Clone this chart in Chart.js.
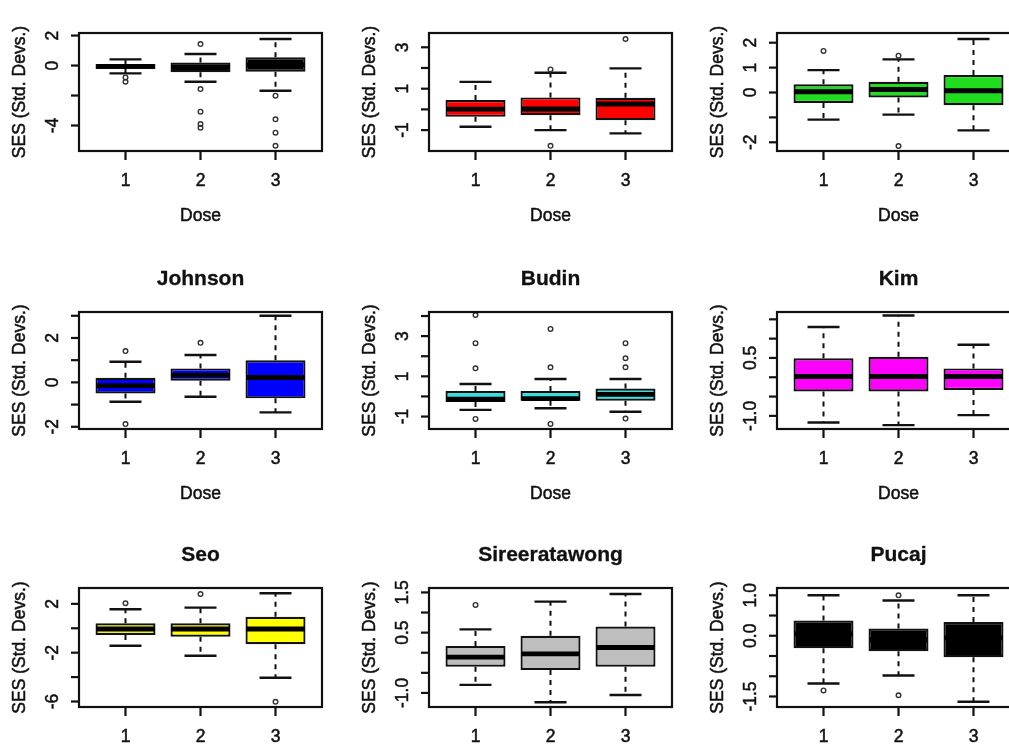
<!DOCTYPE html>
<html><head><meta charset="utf-8">
<script src="https://cdn.jsdelivr.net/npm/chart.js@4.4.0/dist/chart.umd.min.js"></script>
<style>
html,body{margin:0;padding:0;background:#fff;width:1009px;height:745px;overflow:hidden;position:relative}
canvas{position:absolute}
</style></head><body>
<script>
// ---------- data ----------
const doses = [1, 2, 3];
const xAxisTitle = "Dose";
const yAxisTitle = "SES (Std. Devs.)";
const titles = ["", "", "", "Johnson", "Budin", "Kim", "Seo", "Sireeratawong", "Pucaj"];
const fills = ["#000000", "#ff0000", "#1fdc1f", "#0000ff", "#33dede", "#ff00ff", "#ffff00", "#bebebe", "#000000"];

// each row: [lower whisker, Q1, median, Q3, upper whisker] for dose 1,2,3
const stats1 = [[-0.52,-0.23,-0.05,0.10,0.41],[-1.08,-0.45,-0.10,0.21,0.77],[-1.68,-0.41,0.05,0.55,1.77]];
const stats2 = [[-0.84,-0.36,0.01,0.45,1.33],[-1.00,-0.28,0.02,0.58,1.77],[-1.16,-0.52,0.26,0.56,1.98]];
const stats3 = [[-1.09,-0.42,0.03,0.33,0.90],[-0.89,-0.20,0.12,0.43,1.33],[-1.52,-0.51,0.07,0.70,2.15]];
const stats4 = [[-0.87,-0.50,-0.15,0.21,0.93],[-0.65,0.07,0.33,0.63,1.23],[-1.35,-0.72,0.22,1.00,3.00]];
const stats5 = [[-0.67,-0.28,-0.14,0.27,0.62],[-0.59,-0.21,-0.11,0.27,0.87],[-0.76,-0.21,0.10,0.39,0.87]];
const stats6 = [[-1.17,-0.37,0.02,0.49,1.30],[-1.24,-0.37,0.02,0.53,1.60],[-0.98,-0.33,0.02,0.23,0.84]];
const stats7 = [[-1.43,-0.55,-0.06,0.41,1.56],[-2.25,-0.69,-0.06,0.41,1.69],[-4.05,-1.31,-0.06,0.95,2.87]];
const stats8 = [[-0.80,-0.35,-0.11,0.17,0.58],[-1.23,-0.43,-0.03,0.42,1.27],[-1.05,-0.35,0.13,0.65,1.46]];
const stats9 = [[-1.18,-0.31,0.05,0.38,1.00],[-0.98,-0.38,-0.10,0.18,0.87],[-1.63,-0.53,-0.05,0.34,1.00]];

// outliers for dose 1,2,3
const out1 = [[-0.79,-1.08],[1.43,-1.57,-3.08,-3.90,-4.15],[-2.01,-3.59,-4.48,-5.35]];
const out2 = [[],[1.93,-1.76],[3.40]];
const out3 = [[1.67],[1.48,-2.15],[]];
const out4 = [[1.41,-1.88],[1.78],[]];
const out5 = [[4.05,2.65,1.40,-1.12],[3.36,1.45,-1.37],[2.65,1.90,1.45,-1.10]];
const out6 = [[],[],[]];
const out7 = [[2.05],[2.81],[-6.02]];
const out8 = [[1.19],[],[]];
const out9 = [[-1.35],[1.00,-1.47],[]];

// y axis ranges, tick values and tick labels
const yRange1 = [-5.70, 2.17], yTicks1 = [-4,-2,0,2],            yLabels1 = ["-4","","0","2"];
const yRange2 = [-2.01, 3.69], yTicks2 = [-1,0,1,2,3],           yLabels2 = ["-1","","1","","3"];
const yRange3 = [-2.35, 2.39], yTicks3 = [-2,-1,0,1,2],          yLabels3 = ["-2","","0","1","2"];
const yRange4 = [-2.10, 3.17], yTicks4 = [-2,-1,0,1,2,3],        yLabels4 = ["-2","","0","","2",""];
const yRange5 = [-1.62, 4.20], yTicks5 = [-1,0,1,2,3,4],         yLabels5 = ["-1","","1","","3",""];
const yRange6 = [-1.34, 1.69], yTicks6 = [-1,-0.5,0,0.5,1,1.5],  yLabels6 = ["-1.0","","","0.5","",""];
const yRange7 = [-6.45, 3.30], yTicks7 = [-6,-4,-2,0,2],         yLabels7 = ["-6","","-2","","2"];
const yRange8 = [-1.35, 1.61], yTicks8 = [-1,-0.5,0,0.5,1,1.5],  yLabels8 = ["-1.0","","","0.5","","1.5"];
const yRange9 = [-1.76, 1.18], yTicks9 = [-1.5,-1,-0.5,0,0.5,1], yLabels9 = ["-1.5","","","0.0","","1.0"];
const xRange = [0.38, 3.62];

const allStats = [stats1,stats2,stats3,stats4,stats5,stats6,stats7,stats8,stats9];
const allOut = [out1,out2,out3,out4,out5,out6,out7,out8,out9];
const allRanges = [yRange1,yRange2,yRange3,yRange4,yRange5,yRange6,yRange7,yRange8,yRange9];
const allTicks = [yTicks1,yTicks2,yTicks3,yTicks4,yTicks5,yTicks6,yTicks7,yTicks8,yTicks9];
const allLabels = [yLabels1,yLabels2,yLabels3,yLabels4,yLabels5,yLabels6,yLabels7,yLabels8,yLabels9];

// ---------- layout ----------
const colLeft = [79, 429, 777];
const rowTop = [33, 312, 588];
const rowH = [118, 117, 119];
const boxW = 243;
const PL = 80, PR = 14, PT = 62, PB = 86;
const INK = "#111";
const FONT = "'Liberation Sans', Arial, sans-serif";

function heavyText(ctx, s, x, y) {
  ctx.fillText(s, x, y);
  ctx.strokeText(s, x, y);
}

function makePlugin(i) {
  return {
    id: 'boxplot' + i,
    beforeDatasetsDraw(chart) {
      const {ctx, scales: {x, y}} = chart;
      const bars = chart.getDatasetMeta(0).data;
      ctx.save();
      ctx.strokeStyle = INK;
      allStats[i].forEach((s, k) => {
        const cx = x.getPixelForValue(doses[k]);
        const half = bars[k].width / 4 + 1;
        ctx.lineWidth = 2;
        ctx.setLineDash([5, 5]);
        ctx.beginPath();
        ctx.moveTo(cx, y.getPixelForValue(s[3])); ctx.lineTo(cx, y.getPixelForValue(s[4]));
        ctx.moveTo(cx, y.getPixelForValue(s[1])); ctx.lineTo(cx, y.getPixelForValue(s[0]));
        ctx.stroke();
        ctx.setLineDash([]);
        ctx.lineWidth = 2.4;
        ctx.beginPath();
        ctx.moveTo(cx - half, y.getPixelForValue(s[4])); ctx.lineTo(cx + half, y.getPixelForValue(s[4]));
        ctx.moveTo(cx - half, y.getPixelForValue(s[0])); ctx.lineTo(cx + half, y.getPixelForValue(s[0]));
        ctx.stroke();
      });
      ctx.restore();
    },
    afterDatasetsDraw(chart) {
      const {ctx, scales: {x, y}} = chart;
      const bars = chart.getDatasetMeta(0).data;
      ctx.save();
      ctx.strokeStyle = "#000";
      ctx.lineWidth = 4.8;
      allStats[i].forEach((s, k) => {
        const cx = x.getPixelForValue(doses[k]);
        const hw = bars[k].width / 2 - 1;
        const py = y.getPixelForValue(s[2]);
        ctx.beginPath(); ctx.moveTo(cx - hw, py); ctx.lineTo(cx + hw, py); ctx.stroke();
      });
      ctx.restore();
    },
    afterDraw(chart) {
      const {ctx, chartArea: a, scales: {x, y}} = chart;
      ctx.save();
      ctx.strokeStyle = INK; ctx.fillStyle = INK;
      ctx.lineWidth = 2.2;
      ctx.strokeRect(a.left, a.top, a.right - a.left, a.bottom - a.top);
      // y ticks
      ctx.font = "17.5px " + FONT;
      ctx.textAlign = "center"; ctx.textBaseline = "middle";
      y.ticks.forEach((t, j) => {
        const py = y.getPixelForValue(t.value);
        ctx.lineWidth = 2.2;
        ctx.beginPath(); ctx.moveTo(a.left - 8, py); ctx.lineTo(a.left, py); ctx.stroke();
        const lab = allLabels[i][j];
        if (lab) {
          ctx.save(); ctx.translate(a.left - 27, py); ctx.rotate(-Math.PI / 2);
          ctx.lineWidth = 0.5;
          heavyText(ctx, lab, 0, 1); ctx.restore();
        }
      });
      // x ticks
      x.ticks.forEach(t => {
        const px = x.getPixelForValue(t.value);
        ctx.lineWidth = 2.2;
        ctx.beginPath(); ctx.moveTo(px, a.bottom); ctx.lineTo(px, a.bottom + 9); ctx.stroke();
        ctx.lineWidth = 0.5;
        heavyText(ctx, String(t.value), px, a.bottom + 30);
      });
      const midX = (a.left + a.right) / 2, midY = (a.top + a.bottom) / 2;
      ctx.lineWidth = 0.5;
      heavyText(ctx, xAxisTitle, midX, a.bottom + 65);
      ctx.save(); ctx.translate(a.left - 59, midY); ctx.rotate(-Math.PI / 2);
      heavyText(ctx, yAxisTitle, 0, 0); ctx.restore();
      if (titles[i]) {
        ctx.font = "bold 21px " + FONT;
        ctx.lineWidth = 0.3;
        heavyText(ctx, titles[i], midX, a.top - 33);
      }
      ctx.restore();
    }
  };
}

for (let i = 0; i < 9; i++) {
  const r = Math.floor(i / 3), c = i % 3;
  const canvas = document.createElement('canvas');
  const W = PL + boxW + PR, H = PT + rowH[r] + PB;
  canvas.width = W; canvas.height = H;
  canvas.style.left = (colLeft[c] - PL) + 'px';
  canvas.style.top = (rowTop[r] - PT) + 'px';
  canvas.style.width = W + 'px'; canvas.style.height = H + 'px';
  document.body.appendChild(canvas);

  const boxData = doses.map((d, k) => ({x: d, y: [allStats[i][k][1], allStats[i][k][3]]}));
  const outData = [];
  doses.forEach((d, k) => allOut[i][k].forEach(v => outData.push({x: d, y: v})));

  new Chart(canvas, {
    type: 'bar',
    data: {
      datasets: [
        {type: 'bar', data: boxData, backgroundColor: fills[i], borderColor: INK, borderWidth: 2.2,
         borderSkipped: false, barPercentage: 0.8, categoryPercentage: 1.0, clip: false},
        {type: 'scatter', data: outData, pointRadius: 2.3, pointBorderWidth: 1.4,
         borderColor: "#333", backgroundColor: "rgba(255,255,255,0)", clip: false}
      ]
    },
    options: {
      responsive: false, animation: false, devicePixelRatio: 1,
      layout: {padding: {left: PL, right: PR, top: PT, bottom: PB}},
      plugins: {legend: {display: false}, tooltip: {enabled: false}},
      scales: {
        x: {type: 'linear', offset: false, min: xRange[0], max: xRange[1], display: false,
            afterBuildTicks: s => { s.ticks = doses.map(v => ({value: v})); }},
        y: {type: 'linear', min: allRanges[i][0], max: allRanges[i][1], display: false,
            afterBuildTicks: s => { s.ticks = allTicks[i].map(v => ({value: v})); }}
      }
    },
    plugins: [makePlugin(i)]
  });
}
</script>
</body></html>
